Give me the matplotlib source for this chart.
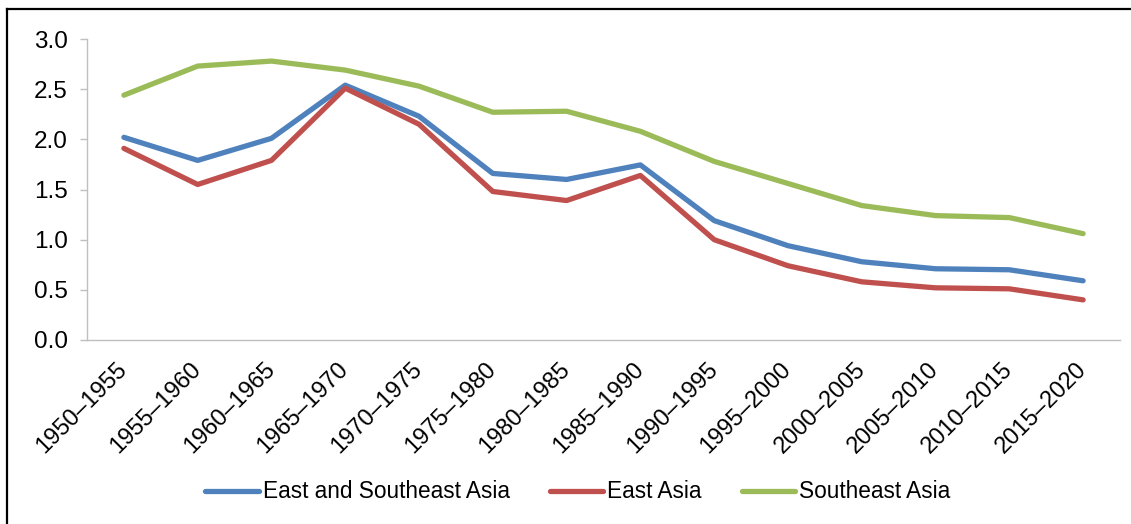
import matplotlib
matplotlib.use("Agg")
import matplotlib.pyplot as plt
from matplotlib.lines import Line2D

periods = ["1950–1955", "1955–1960", "1960–1965", "1965–1970", "1970–1975",
           "1975–1980", "1980–1985", "1985–1990", "1990–1995", "1995–2000",
           "2000–2005", "2005–2010", "2010–2015", "2015–2020"]
east_southeast = [2.02, 1.79, 2.01, 2.54, 2.23, 1.66, 1.60, 1.745, 1.19, 0.94, 0.78, 0.71, 0.70, 0.59]
east_asia = [1.91, 1.55, 1.79, 2.51, 2.15, 1.48, 1.39, 1.64, 1.00, 0.74, 0.58, 0.52, 0.51, 0.40]
southeast_asia = [2.44, 2.73, 2.78, 2.69, 2.53, 2.27, 2.28, 2.08, 1.78, 1.56, 1.34, 1.24, 1.22, 1.06]
yticks = [0.0, 0.5, 1.0, 1.5, 2.0, 2.5, 3.0]

plt.rcParams['font.family'] = ['Liberation Sans', 'DejaVu Sans']

W, H = 1131, 524
fig = plt.figure(figsize=(W / 100, H / 100), dpi=100)
ax = fig.add_axes([87 / W, 1 - 340 / H, (1120 - 87) / W, (340 - 39) / H])

x = list(range(len(periods)))
kw = dict(lw=3.8, solid_capstyle='round', solid_joinstyle='round')
ax.plot(x, east_southeast, color='#4F81BD', label='East and Southeast Asia', **kw)
ax.plot(x, east_asia, color='#C0504D', label='East Asia', **kw)
ax.plot(x, southeast_asia, color='#9BBB59', label='Southeast Asia', **kw)

ax.set_xlim(-0.5, len(periods) - 0.5)
ax.set_ylim(0, 3.0)
ax.set_yticks(yticks)
ax.set_yticklabels([f"{v:.1f}" for v in yticks], fontsize=17.5)
ax.set_xticks(x)
ax.set_xticklabels(periods, fontsize=17, rotation=45, ha='right', va='center',
                   rotation_mode='anchor')
ax.tick_params(axis='x', length=0, pad=19)
ax.tick_params(axis='y', length=5, width=1, color='#BFBFBF', pad=9)
for s in ['top', 'right']:
    ax.spines[s].set_visible(False)
for s in ['left', 'bottom']:
    ax.spines[s].set_color('#BFBFBF')
    ax.spines[s].set_linewidth(1)

fig.legend(loc='center', bbox_to_anchor=(0.511, 1 - 492 / H), ncol=3, frameon=False,
           fontsize=16.3, handlelength=2.35, handletextpad=0.2, columnspacing=1.75)

# figure border (top and left visible)
fig.add_artist(Line2D([7 / W, 1], [1 - 9 / H, 1 - 9 / H], color='black', lw=1.6,
                      transform=fig.transFigure))
fig.add_artist(Line2D([7 / W, 7 / W], [0, 1 - 9 / H], color='black', lw=1.6,
                      transform=fig.transFigure))

fig.savefig('out.png', dpi=100)
